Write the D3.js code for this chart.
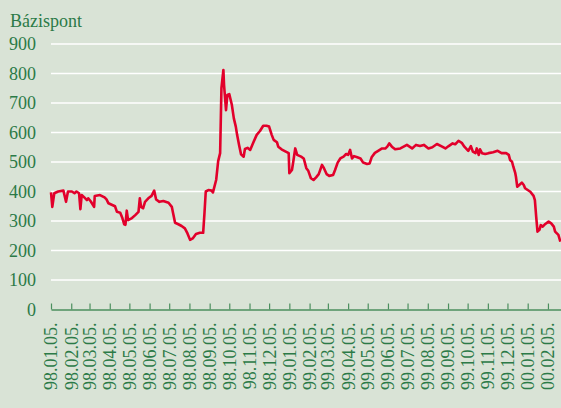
<!DOCTYPE html>
<html>
<head>
<meta charset="utf-8">
<script src="https://cdn.jsdelivr.net/npm/d3@7"></script>
<style>
  body { margin: 0; background: #d9e3d6; }
  svg { display: block; }
</style>
</head>
<body>
<div id="chart"></div>
<script>
// spread values (basis points)
const dates = [
  "1998-01-05","1998-01-07","1998-01-10","1998-01-16","1998-01-24","1998-01-28","1998-01-31",
  "1998-02-06","1998-02-10","1998-02-13","1998-02-17","1998-02-19","1998-02-21","1998-02-25",
  "1998-03-01","1998-03-03","1998-03-07","1998-03-12","1998-03-13","1998-03-21","1998-03-28","1998-03-31",
  "1998-04-03","1998-04-08","1998-04-13","1998-04-16","1998-04-21","1998-04-24","1998-04-27","1998-04-29",
  "1998-05-01","1998-05-03","1998-05-09","1998-05-14","1998-05-19","1998-05-21","1998-05-23","1998-05-26","1998-05-29",
  "1998-06-03","1998-06-08","1998-06-12","1998-06-15","1998-06-20","1998-06-26",
  "1998-07-04","1998-07-09","1998-07-11","1998-07-14","1998-07-19","1998-07-24","1998-07-29",
  "1998-08-02","1998-08-06","1998-08-10","1998-08-15","1998-08-21","1998-08-26","1998-08-28","1998-08-30",
  "1998-09-03","1998-09-08","1998-09-10","1998-09-15","1998-09-18","1998-09-21","1998-09-23","1998-09-26","1998-09-27","1998-09-30",
  "1998-10-02","1998-10-05","1998-10-09","1998-10-12","1998-10-15","1998-10-17","1998-10-20","1998-10-23","1998-10-27","1998-10-29",
  "1998-11-02","1998-11-06","1998-11-11","1998-11-16","1998-11-21","1998-11-26",
  "1998-12-01","1998-12-05","1998-12-09","1998-12-12","1998-12-17","1998-12-19","1998-12-24","1998-12-29",
  "1999-01-04","1999-01-05","1999-01-09","1999-01-11","1999-01-14","1999-01-17","1999-01-23","1999-01-27","1999-01-31",
  "1999-02-03","1999-02-07","1999-02-11","1999-02-15","1999-02-19","1999-02-24","1999-02-27",
  "1999-03-03","1999-03-07","1999-03-13","1999-03-16","1999-03-20","1999-03-24","1999-03-29",
  "1999-04-02","1999-04-05","1999-04-08","1999-04-11","1999-04-14","1999-04-19","1999-04-24","1999-04-28",
  "1999-05-04","1999-05-08","1999-05-11","1999-05-16","1999-05-21","1999-05-27",
  "1999-06-01","1999-06-04","1999-06-07","1999-06-11","1999-06-16","1999-06-24","1999-06-29",
  "1999-07-04","1999-07-12","1999-07-18","1999-07-24","1999-07-30",
  "1999-08-06","1999-08-12","1999-08-19","1999-08-27",
  "1999-09-01","1999-09-06","1999-09-12","1999-09-16","1999-09-21","1999-09-26","1999-09-30",
  "1999-10-06","1999-10-10","1999-10-13","1999-10-17","1999-10-19","1999-10-22","1999-10-24","1999-10-27",
  "1999-11-01","1999-11-06","1999-11-13","1999-11-20","1999-11-26",
  "1999-12-03","1999-12-07","1999-12-09","1999-12-12","1999-12-14","1999-12-17","1999-12-18","1999-12-20","1999-12-23","1999-12-27","1999-12-30",
  "2000-01-01","2000-01-05","2000-01-09","2000-01-14","2000-01-16","2000-01-18","2000-01-20","2000-01-23","2000-01-25","2000-01-28",
  "2000-02-01","2000-02-06","2000-02-10","2000-02-14","2000-02-16","2000-02-21","2000-02-24"
]
const values = [
  397,348,394,400,403,365,400,
  400,394,400,394,340,388,380,
  371,377,366,348,385,388,380,373,
  360,355,350,331,328,312,289,287,
  335,303,310,320,331,377,348,343,365,
  377,385,403,373,365,368,
  362,348,326,294,289,283,275,
  258,236,241,256,260,260,326,400,
  405,403,397,440,503,530,750,812,761,676,
  727,730,693,648,620,592,558,526,518,544,
  548,541,567,592,605,623,
  623,620,592,575,567,552,543,537,
  530,462,473,501,546,524,518,512,479,
  470,445,439,448,459,490,479,
  459,453,456,473,498,512,518,
  527,524,541,512,520,516,512,498,
  493,495,516,531,538,546,
  546,552,563,552,543,546,552,
  558,546,558,554,558,
  546,550,561,552,
  546,554,563,560,572,565,552,
  538,554,535,530,546,524,543,530,
  527,530,533,538,530,
  530,524,507,501,484,462,450,416,422,430,422,
  411,405,399,385,371,315,264,270,286,281,
  290,298,292,281,264,253,230
]
const monthTicks = [
  "1998-01-05","1998-02-05","1998-03-05","1998-04-05","1998-05-05","1998-06-05","1998-07-05",
  "1998-08-05","1998-09-05","1998-10-05","1998-11-05","1998-12-05","1999-01-05","1999-02-05",
  "1999-03-05","1999-04-05","1999-05-05","1999-06-05","1999-07-05","1999-08-05","1999-09-05",
  "1999-10-05","1999-11-05","1999-12-05","2000-01-05","2000-02-05"
]
const yTicks = [0, 100, 200, 300, 400, 500, 600, 700, 800, 900]

const width = 561, height = 408
const green = "#2b7a47"
const font = "'Liberation Serif', 'Times New Roman', serif"

const parse = d3.timeParse("%Y-%m-%d")
const fmt = d3.timeFormat("%y.%m.%d.")
const data = dates.map((d, i) => ({ date: parse(d), value: values[i] }))

const svg = d3.select("#chart").append("svg")
    .attr("width", width)
    .attr("height", height)

svg.append("rect")
    .attr("width", width).attr("height", height)
    .attr("fill", "#d9e3d6")

let x = d3.scaleTime()
    .domain([parse("1998-01-05"), parse("2000-02-25")])
    .range([51, 561])

let y = d3.scaleLinear().domain([0, 900]).range([309.5, 44])

// gridlines
svg.append("g")
    .selectAll("line")
    .data(yTicks.filter(d => d > 0))
    .enter().append("line")
    .attr("x1", 51).attr("x2", width)
    .attr("y1", d => y(d)).attr("y2", d => y(d))
    .attr("stroke", "#ffffff")
    .attr("stroke-width", 1.6)

// y labels
svg.append("g")
    .selectAll("text")
    .data(yTicks)
    .enter().append("text")
    .attr("x", 36)
    .attr("y", d => y(d))
    .attr("dy", "0.35em")
    .attr("text-anchor", "end")
    .attr("fill", green)
    .attr("font-family", font)
    .attr("font-size", 18)
    .text(d => d)

svg.append("text")
    .attr("x", 10).attr("y", 27)
    .attr("fill", green)
    .attr("font-family", font)
    .attr("font-size", 18)
    .text("Bázispont")

// x axis
let xAxis = d3.axisBottom(x)
    .tickValues(monthTicks.map(parse))
    .tickSizeInner(-6)
    .tickSizeOuter(0)
    .tickPadding(0)
    .tickFormat(fmt)

let gx = svg.append("g")
    .attr("transform", "translate(0," + y(0) + ")")
    .call(xAxis)

gx.select(".domain").attr("stroke", "#4b8f5e").attr("stroke-width", 1.5)
gx.selectAll(".tick line").attr("stroke", "#4b8f5e").attr("stroke-width", 1.2)
gx.selectAll(".tick text")
    .attr("fill", green)
    .attr("font-family", font)
    .attr("font-size", 18)
    .attr("transform", "rotate(-90)")
    .attr("text-anchor", "end")
    .attr("x", -13)
    .attr("y", 0)
    .attr("dy", "0.33em")

// spread line
let line = d3.line()
    .x(d => x(d.date))
    .y(d => y(d.value))

svg.append("path")
    .datum(data)
    .attr("d", line)
    .attr("fill", "none")
    .attr("stroke", "#e2002b")
    .attr("stroke-width", 2.6)
    .attr("stroke-linejoin", "round")
</script>
</body>
</html>
